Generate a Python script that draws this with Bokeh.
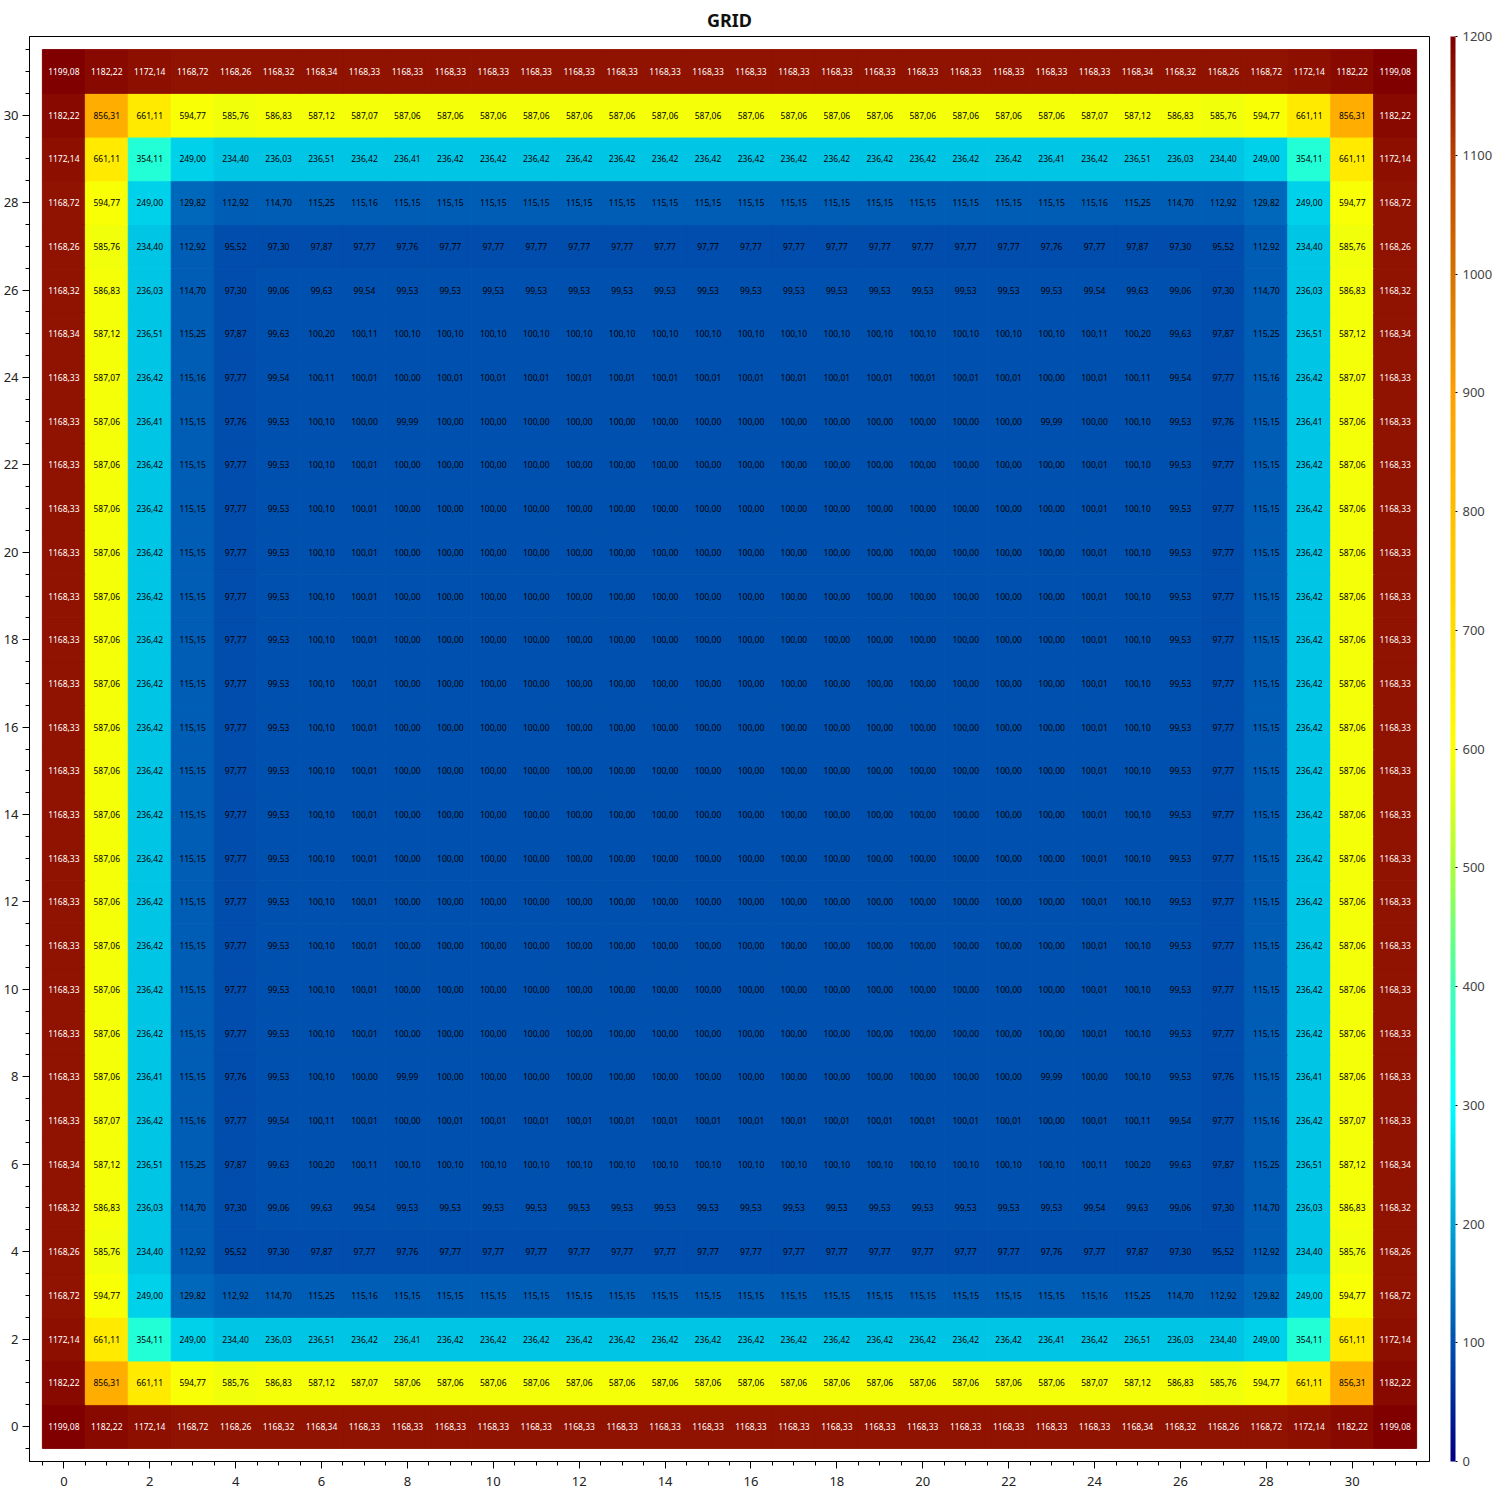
import numpy as np
from bokeh.plotting import figure
from bokeh.models import (ColumnDataSource, LinearColorMapper, ColorBar,
                          SingleIntervalTicker, Range1d)
from bokeh.embed import file_html
from bokeh.resources import INLINE
from bokeh.core.properties import value

# ---------------- data ----------------
row_edge = [1199.08, 1182.22, 1172.14, 1168.72, 1168.26, 1168.32, 1168.34, 1168.33,
            1168.33, 1168.33, 1168.33, 1168.33, 1168.33, 1168.33, 1168.33, 1168.33,
            1168.33, 1168.33, 1168.33, 1168.33, 1168.33, 1168.33, 1168.33, 1168.33,
            1168.33, 1168.34, 1168.32, 1168.26, 1168.72, 1172.14, 1182.22, 1199.08]
row_1 = [1182.22, 856.31, 661.11, 594.77, 585.76, 586.83, 587.12, 587.07,
         587.06, 587.06, 587.06, 587.06, 587.06, 587.06, 587.06, 587.06,
         587.06, 587.06, 587.06, 587.06, 587.06, 587.06, 587.06, 587.06,
         587.07, 587.12, 586.83, 585.76, 594.77, 661.11, 856.31, 1182.22]
row_2 = [1172.14, 661.11, 354.11, 249.00, 234.40, 236.03, 236.51, 236.42,
         236.41, 236.42, 236.42, 236.42, 236.42, 236.42, 236.42, 236.42,
         236.42, 236.42, 236.42, 236.42, 236.42, 236.42, 236.42, 236.41,
         236.42, 236.51, 236.03, 234.40, 249.00, 354.11, 661.11, 1172.14]
row_3 = [1168.72, 594.77, 249.00, 129.82, 112.92, 114.70, 115.25, 115.16,
         115.15, 115.15, 115.15, 115.15, 115.15, 115.15, 115.15, 115.15,
         115.15, 115.15, 115.15, 115.15, 115.15, 115.15, 115.15, 115.15,
         115.16, 115.25, 114.70, 112.92, 129.82, 249.00, 594.77, 1168.72]
row_4 = [1168.26, 585.76, 234.40, 112.92, 95.52, 97.30, 97.87, 97.77,
         97.76, 97.77, 97.77, 97.77, 97.77, 97.77, 97.77, 97.77,
         97.77, 97.77, 97.77, 97.77, 97.77, 97.77, 97.77, 97.76,
         97.77, 97.87, 97.30, 95.52, 112.92, 234.40, 585.76, 1168.26]
row_5 = [1168.32, 586.83, 236.03, 114.70, 97.30, 99.06, 99.63, 99.54,
         99.53, 99.53, 99.53, 99.53, 99.53, 99.53, 99.53, 99.53,
         99.53, 99.53, 99.53, 99.53, 99.53, 99.53, 99.53, 99.53,
         99.54, 99.63, 99.06, 97.30, 114.70, 236.03, 586.83, 1168.32]
row_6 = [1168.34, 587.12, 236.51, 115.25, 97.87, 99.63, 100.20, 100.11,
         100.10, 100.10, 100.10, 100.10, 100.10, 100.10, 100.10, 100.10,
         100.10, 100.10, 100.10, 100.10, 100.10, 100.10, 100.10, 100.10,
         100.11, 100.20, 99.63, 97.87, 115.25, 236.51, 587.12, 1168.34]
row_7 = [1168.33, 587.07, 236.42, 115.16, 97.77, 99.54, 100.11, 100.01,
         100.00, 100.01, 100.01, 100.01, 100.01, 100.01, 100.01, 100.01,
         100.01, 100.01, 100.01, 100.01, 100.01, 100.01, 100.01, 100.00,
         100.01, 100.11, 99.54, 97.77, 115.16, 236.42, 587.07, 1168.33]
row_8 = [1168.33, 587.06, 236.41, 115.15, 97.76, 99.53, 100.10, 100.00,
         99.99, 100.00, 100.00, 100.00, 100.00, 100.00, 100.00, 100.00,
         100.00, 100.00, 100.00, 100.00, 100.00, 100.00, 100.00, 99.99,
         100.00, 100.10, 99.53, 97.76, 115.15, 236.41, 587.06, 1168.33]
row_mid = [1168.33, 587.06, 236.42, 115.15, 97.77, 99.53, 100.10, 100.01,
           100.00, 100.00, 100.00, 100.00, 100.00, 100.00, 100.00, 100.00,
           100.00, 100.00, 100.00, 100.00, 100.00, 100.00, 100.00, 100.00,
           100.01, 100.10, 99.53, 97.77, 115.15, 236.42, 587.06, 1168.33]

# rows listed from y = 0 (bottom) to y = 31 (top)
grid_rows = [row_edge, row_1, row_2, row_3, row_4, row_5, row_6, row_7, row_8,
             row_mid, row_mid, row_mid, row_mid, row_mid, row_mid, row_mid,
             row_mid, row_mid, row_mid, row_mid, row_mid, row_mid, row_mid,
             row_8, row_7, row_6, row_5, row_4, row_3, row_2, row_1, row_edge]

color_low, color_high = 0, 1200

# ---------------- palette (jet-like) ----------------
anchors = [(0, (0, 0, 128)), (100, (0, 82, 176)), (200, (0, 165, 215)),
           (300, (0, 255, 255)), (400, (64, 255, 180)), (500, (170, 255, 60)),
           (600, (255, 255, 0)), (700, (255, 222, 0)), (800, (255, 190, 0)),
           (900, (255, 160, 0)), (1000, (215, 115, 0)), (1100, (185, 65, 0)),
           (1200, (128, 0, 0))]
av = np.array([a[0] for a in anchors], float)
ac = np.array([a[1] for a in anchors], float)
palette = []
for t in np.linspace(0, 1200, 256):
    r = np.interp(t, av, ac[:, 0]); g = np.interp(t, av, ac[:, 1]); b = np.interp(t, av, ac[:, 2])
    palette.append("#%02x%02x%02x" % (int(round(r)), int(round(g)), int(round(b))))

mapper = LinearColorMapper(palette=palette, low=color_low, high=color_high)

xs, ys, vals, labels, tcolors = [], [], [], [], []
for yi, row in enumerate(grid_rows):
    for xi, v in enumerate(row):
        xs.append(xi); ys.append(yi); vals.append(v)
        labels.append(f"{v:.2f}".replace(".", ","))
        tcolors.append("#ffffff" if v > 1000 else "#000000")
src = ColumnDataSource(dict(x=xs, y=ys, v=vals, label=labels, tc=tcolors))

p = figure(frame_width=1400, frame_height=1425, output_backend="svg",
           toolbar_location=None, title="GRID",
           x_range=Range1d(-0.8, 31.8), y_range=Range1d(-0.8, 31.8),
           min_border_left=29, min_border_right=0, min_border_top=35, min_border_bottom=0)

cmap = {"field": "v", "transform": mapper}
p.rect(x="x", y="y", width=1, height=1, source=src,
       fill_color=cmap, line_color=cmap, line_width=1)
p.text(x="x", y="y", text="label", source=src, text_color="tc",
       text_align="center", text_baseline="middle", text_font_size="8.5px",
       text_font=value("Noto Sans"))

p.title.align = "center"
p.title.text_font = "Noto Sans"
p.title.text_font_size = "18px"
p.title.text_font_style = "bold"
p.title.text_color = "#111111"

p.xgrid.visible = False
p.ygrid.visible = False
p.outline_line_color = "black"
p.outline_line_width = 1

for ax in (p.xaxis[0], p.yaxis[0]):
    ax.ticker = SingleIntervalTicker(interval=2, num_minor_ticks=4)
    ax.major_label_text_font = "Noto Sans"
    ax.major_label_text_font_size = "13px"
    ax.major_label_text_color = "#222222"
    ax.axis_line_color = "black"
    ax.major_tick_line_color = "black"
    ax.minor_tick_line_color = "black"
    ax.major_tick_out = 7
    ax.major_tick_in = 0
    ax.minor_tick_out = 4
    ax.minor_tick_in = 0
p.xaxis[0].major_label_standoff = 8
p.yaxis[0].major_label_standoff = 4

cb = ColorBar(color_mapper=mapper, width=5, padding=0, margin=0, location=(21, 0),
              ticker=SingleIntervalTicker(interval=100, num_minor_ticks=5),
              major_label_text_font="Noto Sans", major_label_text_font_size="13px",
              major_label_text_color="#444444",
              major_tick_line_color="black", minor_tick_line_color="black",
              major_tick_in=0, major_tick_out=2, minor_tick_in=0, minor_tick_out=0,
              bar_line_color=None, border_line_color=None,
              background_fill_color=None, label_standoff=5)
p.add_layout(cb, "right")

open("out.html", "w").write(file_html(p, INLINE))
